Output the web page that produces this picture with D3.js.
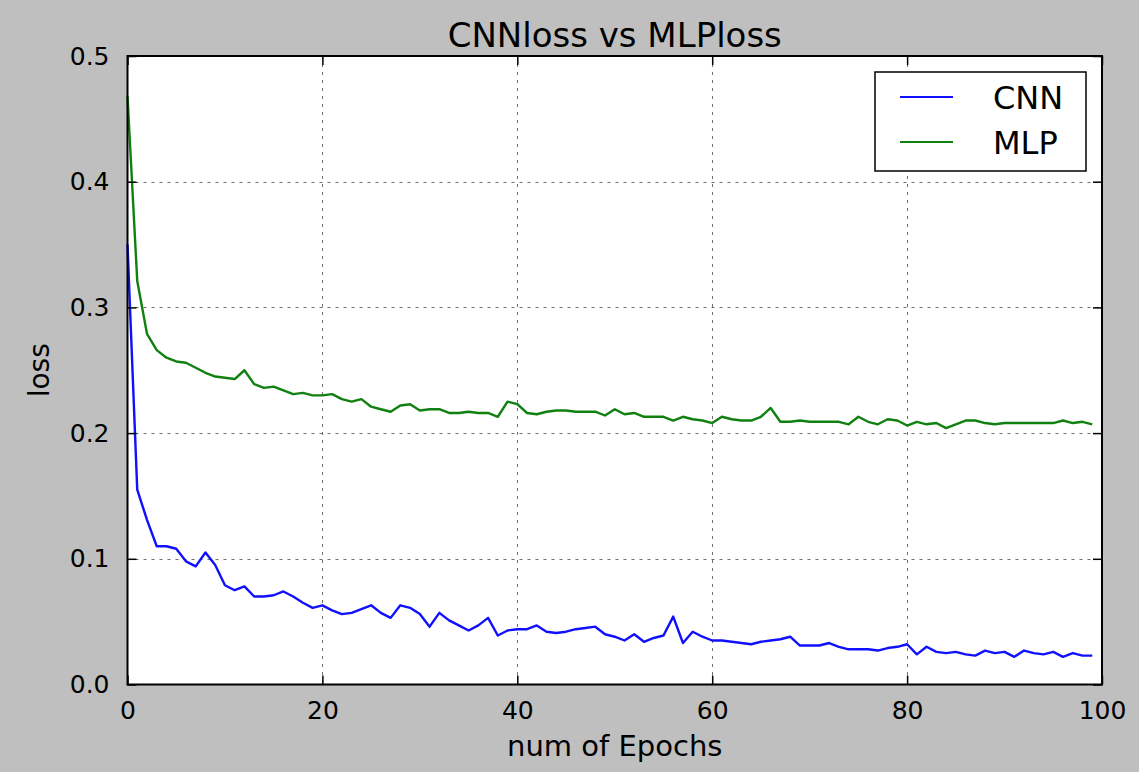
<!DOCTYPE html>
<html>
<head>
<meta charset="utf-8">
<script src="https://cdn.jsdelivr.net/npm/d3@7/dist/d3.min.js"></script>
<style>
  html, body { margin: 0; padding: 0; background: #bfbfbf; }
  svg { display: block; }
  text { font-family: "DejaVu Sans", sans-serif; fill: #000; }
</style>
</head>
<body>
<svg id="chart" width="1139" height="772"></svg>
<script>
const title = "CNNloss vs MLPloss";
const xLabel = "num of Epochs";
const yLabel = "loss";
const seriesNames = ["CNN", "MLP"];
const seriesColors = ["#1010ff", "#108010"];
const xTicks = [0, 20, 40, 60, 80, 100];
const yTicks = [0.0, 0.1, 0.2, 0.3, 0.4, 0.5];

const cnnLoss = [
  0.350, 0.155, 0.131, 0.110, 0.110, 0.108, 0.098, 0.094, 0.105, 0.095,
  0.079, 0.075, 0.078, 0.070, 0.070, 0.071, 0.074, 0.070, 0.065, 0.061,
  0.063, 0.059, 0.056, 0.057, 0.060, 0.063, 0.057, 0.053, 0.063, 0.061,
  0.056, 0.046, 0.057, 0.051, 0.047, 0.043, 0.047, 0.053, 0.039, 0.043,
  0.044, 0.044, 0.047, 0.042, 0.041, 0.042, 0.044, 0.045, 0.046, 0.040,
  0.038, 0.035, 0.040, 0.034, 0.037, 0.039, 0.054, 0.033, 0.042, 0.038,
  0.035, 0.035, 0.034, 0.033, 0.032, 0.034, 0.035, 0.036, 0.038, 0.031,
  0.031, 0.031, 0.033, 0.030, 0.028, 0.028, 0.028, 0.027, 0.029, 0.030,
  0.032, 0.024, 0.030, 0.026, 0.025, 0.026, 0.024, 0.023, 0.027, 0.025,
  0.026, 0.022, 0.027, 0.025, 0.024, 0.026, 0.022, 0.025, 0.023, 0.023
];
const mlpLoss = [
  0.468, 0.321, 0.279, 0.266, 0.260, 0.257, 0.256, 0.252, 0.248, 0.245,
  0.244, 0.243, 0.250, 0.239, 0.236, 0.237, 0.234, 0.231, 0.232, 0.230,
  0.230, 0.231, 0.227, 0.225, 0.227, 0.221, 0.219, 0.217, 0.222, 0.223,
  0.218, 0.219, 0.219, 0.216, 0.216, 0.217, 0.216, 0.216, 0.213, 0.225,
  0.223, 0.216, 0.215, 0.217, 0.218, 0.218, 0.217, 0.217, 0.217, 0.214,
  0.219, 0.215, 0.216, 0.213, 0.213, 0.213, 0.210, 0.213, 0.211, 0.210,
  0.208, 0.213, 0.211, 0.210, 0.210, 0.213, 0.220, 0.209, 0.209, 0.210,
  0.209, 0.209, 0.209, 0.209, 0.207, 0.213, 0.209, 0.207, 0.211, 0.210,
  0.206, 0.209, 0.207, 0.208, 0.204, 0.207, 0.210, 0.210, 0.208, 0.207,
  0.208, 0.208, 0.208, 0.208, 0.208, 0.208, 0.210, 0.208, 0.209, 0.207
];
const epochs = d3.range(cnnLoss.length);

const svg = d3.select("#chart");
const W = 1139, H = 772;
const m = { left: 127.5, right: 1102, top: 56, bottom: 684.5 };

svg.append("rect").attr("width", W).attr("height", H).attr("fill", "#bfbfbf");

const x = d3.scaleLinear().domain([0, 100]).range([m.left, m.right]);
const y = d3.scaleLinear().domain([0, 0.5]).range([m.bottom, m.top]);

svg.append("rect")
  .attr("x", m.left).attr("y", m.top)
  .attr("width", m.right - m.left).attr("height", m.bottom - m.top)
  .attr("fill", "#ffffff");

// grid
const grid = svg.append("g").attr("stroke", "#6e6e6e").attr("stroke-width", 1)
  .attr("stroke-dasharray", "3,5");
grid.selectAll(".gx").data(xTicks.filter(t => t > 0 && t < 100)).enter().append("line")
  .attr("x1", d => Math.round(x(d)) + 0.5).attr("x2", d => Math.round(x(d)) + 0.5)
  .attr("y1", m.top).attr("y2", m.bottom);
grid.selectAll(".gy").data(yTicks.filter(t => t > 0 && t < 0.5)).enter().append("line")
  .attr("y1", d => Math.round(y(d)) + 0.5).attr("y2", d => Math.round(y(d)) + 0.5)
  .attr("x1", m.left).attr("x2", m.right);

// lines
const line = d3.line().x((d, i) => x(epochs[i])).y(d => y(d));
const plot = svg.append("g");
[cnnLoss, mlpLoss].forEach((s, k) => {
  plot.append("path").datum(s)
    .attr("fill", "none")
    .attr("stroke", seriesColors[k])
    .attr("stroke-width", 2.4)
    .attr("stroke-linejoin", "round")
    .attr("d", line);
});

// axes with inward ticks
const tickLen = 9;
const xAxisB = d3.axisBottom(x).tickValues(xTicks).tickSizeInner(-tickLen).tickSizeOuter(0).tickPadding(tickLen + 8).tickFormat(d3.format("d"));
const xAxisT = d3.axisTop(x).tickValues(xTicks).tickSizeInner(-tickLen).tickSizeOuter(0).tickFormat("");
const yAxisL = d3.axisLeft(y).tickValues(yTicks).tickSizeInner(-tickLen).tickSizeOuter(0).tickPadding(tickLen + 9).tickFormat(d3.format(".1f"));
const yAxisR = d3.axisRight(y).tickValues(yTicks).tickSizeInner(-tickLen).tickSizeOuter(0).tickFormat("");

function style(g) {
  g.select(".domain").remove();
  g.selectAll(".tick line").attr("stroke", "#000").attr("stroke-width", 1.5);
  g.selectAll(".tick text").style("font-size", "25px").attr("fill", "#000");
}
svg.append("g").attr("transform", `translate(0,${m.bottom})`).call(xAxisB).call(style);
svg.append("g").attr("transform", `translate(0,${m.top})`).call(xAxisT).call(style);
svg.append("g").attr("transform", `translate(${m.left},0)`).call(yAxisL).call(style);
svg.append("g").attr("transform", `translate(${m.right},0)`).call(yAxisR).call(style);

// frame
svg.append("rect")
  .attr("x", m.left).attr("y", m.top)
  .attr("width", m.right - m.left).attr("height", m.bottom - m.top)
  .attr("fill", "none").attr("stroke", "#000").attr("stroke-width", 2);

// title and labels
svg.append("text").attr("x", (m.left + m.right) / 2).attr("y", 47)
  .attr("text-anchor", "middle").style("font-size", "34px").text(title);
svg.append("text").attr("x", (m.left + m.right) / 2).attr("y", 756)
  .attr("text-anchor", "middle").style("font-size", "29px").text(xLabel);
svg.append("text").attr("transform", `translate(49,${(m.top + m.bottom) / 2}) rotate(-90)`)
  .attr("text-anchor", "middle").style("font-size", "28px").text(yLabel);

// legend
const lg = svg.append("g");
lg.append("rect").attr("x", 875).attr("y", 72).attr("width", 211).attr("height", 99)
  .attr("fill", "#ffffff").attr("stroke", "#000").attr("stroke-width", 1.5);
seriesNames.forEach((name, k) => {
  const ly = 97 + k * 45;
  lg.append("line").attr("x1", 900).attr("x2", 953).attr("y1", ly).attr("y2", ly)
    .attr("stroke", seriesColors[k]).attr("stroke-width", 2.2);
  lg.append("text").attr("x", 993).attr("y", ly + 12)
    .style("font-size", "32px").text(name);
});
</script>
</body>
</html>
